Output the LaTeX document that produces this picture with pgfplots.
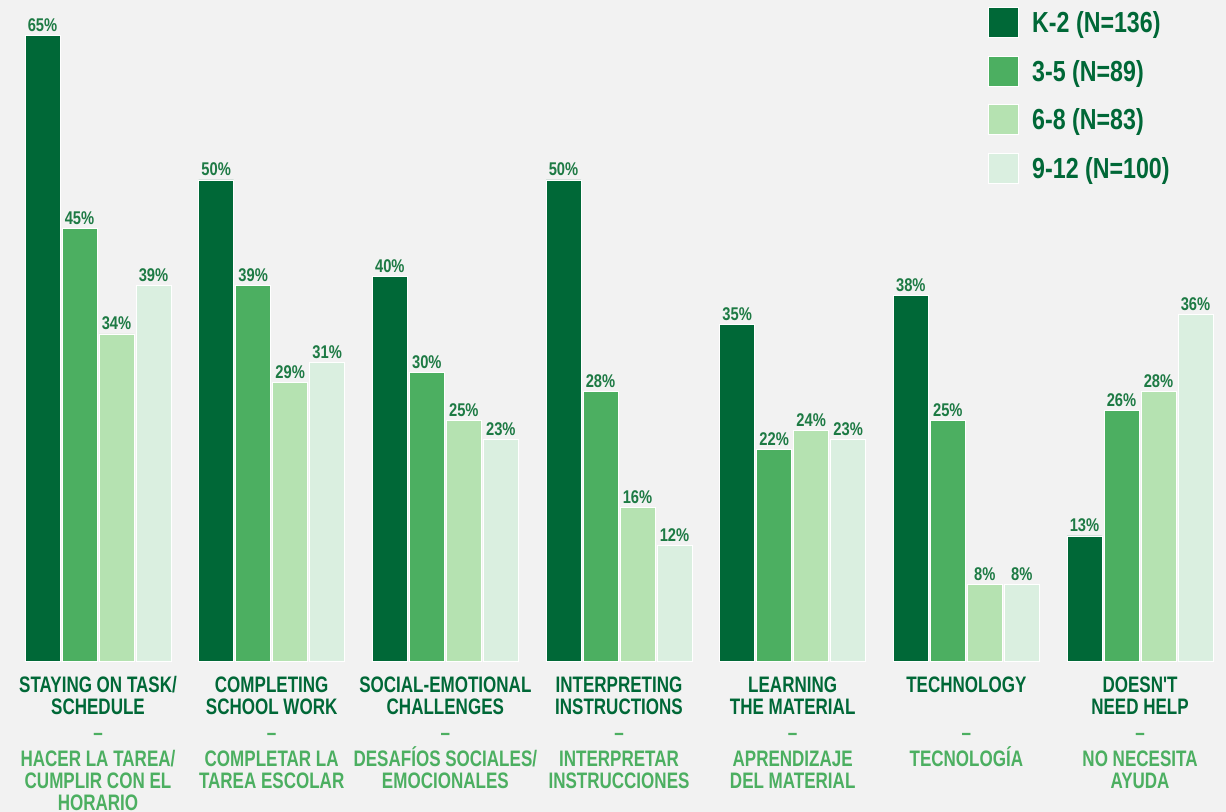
\documentclass[border=0pt]{standalone}
\usepackage{fontspec}
\setmainfont{Liberation Sans}[FakeStretch=0.8]
\newfontfamily\catfont{Liberation Sans}[FakeStretch=0.76]
\usepackage{pgfplots}
\usepackage{pgfplotstable}
\pgfplotsset{compat=1.18}

\definecolor{bg}{HTML}{F2F2F2}
\definecolor{dk}{HTML}{006837}
\definecolor{md}{HTML}{4CAF61}
\definecolor{lt}{HTML}{B5E2B1}
\definecolor{xl}{HTML}{DAEFE0}
\definecolor{lbl}{HTML}{1D7A44}

% one row per category, one column per grade band (percent)
\pgfplotstableread{
x k2 g35 g68 g912
0 65 45 34 39
1 50 39 29 31
2 40 30 25 23
3 50 28 16 12
4 35 22 24 23
5 38 25 8  8
6 13 26 28 36
}\datatable

\pgfplotsset{
  sq/.style={legend image code/.code={\fill[##1] (0pt,-7.5pt) rectangle (15pt,7.5pt);}},
}
\tikzset{
  en/.style={text=dk, font=\catfont\fontsize{11.2}{13}\selectfont\bfseries, inner sep=0pt, anchor=base},
  es/.style={text=md, font=\catfont\fontsize{11.2}{13}\selectfont\bfseries, inner sep=0pt, anchor=base},
}
% category label: x, two English lines, three Spanish lines
\newcommand\cat[6]{%
  \node[en] at (axis cs:#1,0) [yshift=-16pt] {#2};
  \node[en] at (axis cs:#1,0) [yshift=-27pt] {#3};
  \node[es] at (axis cs:#1,0) [yshift=-40pt] {–};
  \node[es] at (axis cs:#1,0) [yshift=-53pt] {#4};
  \node[es] at (axis cs:#1,0) [yshift=-64pt] {#5};
  \node[es] at (axis cs:#1,0) [yshift=-74.6pt] {#6};
}

\begin{document}
\begin{tikzpicture}
  \path[use as bounding box, fill=bg] (0,-75.5pt) rectangle (613pt,330.5pt);
  \begin{axis}[
    at={(0,0)}, anchor=south west,
    scale only axis,
    width=613pt, height=330.5pt,
    xmin=-0.5643, xmax=6.4951,
    ymin=0, ymax=68.71,
    hide axis,
    clip=false,
    ybar,
    bar width=17.5pt,
    /pgf/number format/assume math mode=true,
    nodes near coords={\pgfmathprintnumber{\pgfplotspointmeta}\%},
    every node near coord/.append style={
      font=\fontsize{9.2}{10}\selectfont\bfseries, text=lbl,
      anchor=base, inner sep=0pt, yshift=2pt},
    legend cell align=left,
    legend style={
      at={(rel axis cs:0.8059,0.9894)}, anchor=north west,
      draw=none, fill=none, inner sep=0pt,
      row sep=8.85pt, column sep=6.5pt,
      font=\fontsize{14.5}{16}\selectfont\bfseries, text=dk,
      nodes={inner sep=0pt, text height=10pt, text depth=0pt, anchor=west},
    },
  ]
  \addplot[fill=dk, draw=white, line width=0.4pt, bar shift=-27.75pt, sq]
    table[x=x, y=k2] {\datatable};
  \addlegendentry{K-2 (N=136)}
  \addplot[fill=md, draw=white, line width=0.4pt, bar shift=-9.25pt, sq]
    table[x=x, y=g35] {\datatable};
  \addlegendentry{3-5 (N=89)}
  \addplot[fill=lt, draw=white, line width=0.4pt, bar shift=9.25pt, sq]
    table[x=x, y=g68] {\datatable};
  \addlegendentry{6-8 (N=83)}
  \addplot[fill=xl, draw=white, line width=0.4pt, bar shift=27.75pt, sq]
    table[x=x, y=g912] {\datatable};
  \addlegendentry{9-12 (N=100)}

  \cat{0}{STAYING ON TASK/}{SCHEDULE}{HACER LA TAREA/}{CUMPLIR CON EL}{HORARIO}
  \cat{1}{COMPLETING}{SCHOOL WORK}{COMPLETAR LA}{TAREA ESCOLAR}{}
  \cat{2}{SOCIAL-EMOTIONAL}{CHALLENGES}{DESAFÍOS SOCIALES/}{EMOCIONALES}{}
  \cat{3}{INTERPRETING}{INSTRUCTIONS}{INTERPRETAR}{INSTRUCCIONES}{}
  \cat{4}{LEARNING}{THE MATERIAL}{APRENDIZAJE}{DEL MATERIAL}{}
  \cat{5}{TECHNOLOGY}{}{TECNOLOGÍA}{}{}
  \cat{6}{DOESN'T}{NEED HELP}{NO NECESITA}{AYUDA}{}
  \end{axis}
\end{tikzpicture}
\end{document}
